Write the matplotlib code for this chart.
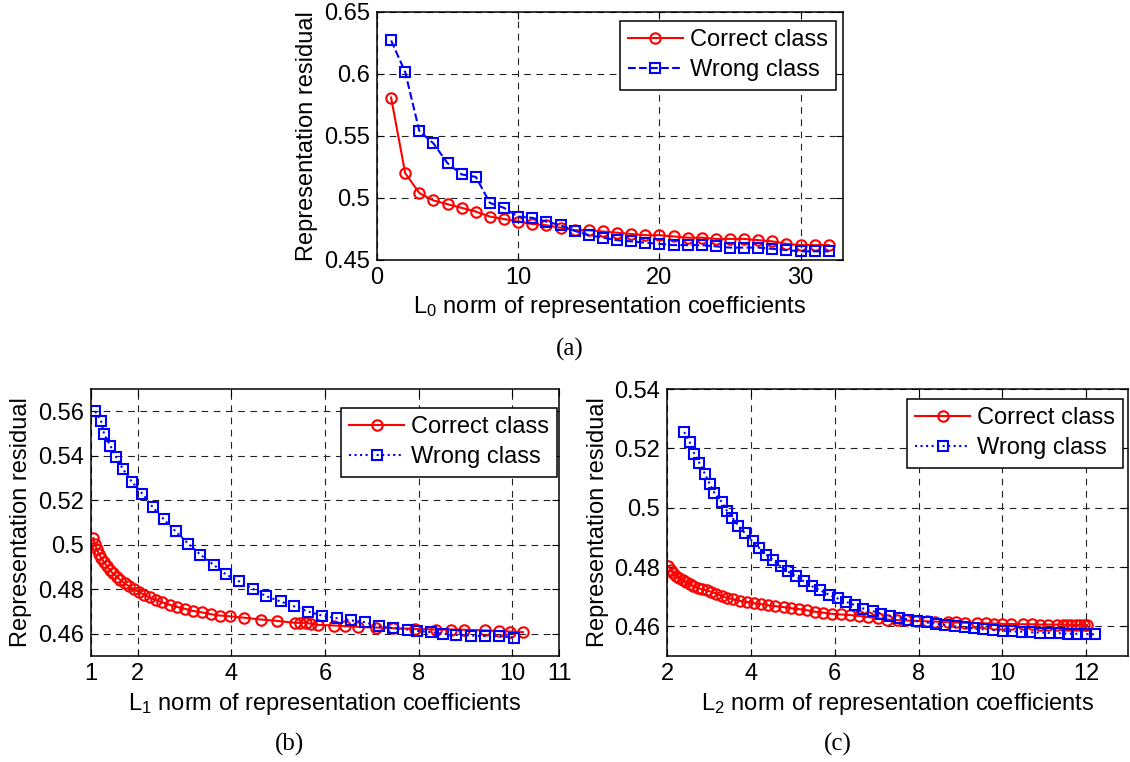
import numpy as np
import matplotlib
matplotlib.use("Agg")
import matplotlib.pyplot as plt

plt.rcParams["font.family"] = ["Liberation Sans", "DejaVu Sans"]
plt.rcParams["mathtext.fontset"] = "custom"
plt.rcParams["mathtext.rm"] = "Liberation Sans"
plt.rcParams["mathtext.it"] = "Liberation Sans"
plt.rcParams["xtick.direction"] = "in"
plt.rcParams["ytick.direction"] = "in"

# ===== (a) L0 norm =====
l0_x = np.arange(1, 33)
l0_correct = [0.581, 0.520, 0.504, 0.498, 0.495, 0.492, 0.489, 0.485, 0.483, 0.481,
              0.479, 0.478, 0.476, 0.474, 0.474, 0.473, 0.472, 0.471, 0.470, 0.470,
              0.469, 0.468, 0.468, 0.467, 0.467, 0.467, 0.466, 0.465, 0.463, 0.462,
              0.462, 0.462]
l0_wrong = [0.627, 0.6015, 0.554, 0.544, 0.528, 0.519, 0.517, 0.496, 0.492, 0.485,
            0.484, 0.481, 0.478, 0.4735, 0.470, 0.468, 0.466, 0.465, 0.464, 0.463,
            0.462, 0.462, 0.462, 0.461, 0.460, 0.460, 0.460, 0.459, 0.458, 0.457,
            0.457, 0.457]

# ===== (b) L1 norm =====
l1_correct_x = [1.05, 1.08, 1.12, 1.17, 1.22, 1.28, 1.34, 1.40, 1.47, 1.55, 1.63, 1.72,
                1.81, 1.91, 2.03, 2.14, 2.26, 2.39, 2.52, 2.68, 2.83, 3.01, 3.17, 3.37,
                3.56, 3.75, 3.98, 4.28, 4.63, 4.97, 5.36, 5.47, 5.59, 5.70, 5.85, 6.20,
                6.43, 6.70, 7.08, 7.46, 7.92, 8.38, 8.69, 8.96, 9.42, 9.72, 9.95, 10.23]
l1_correct = [0.5030, 0.5004, 0.4982, 0.4959, 0.4940, 0.4922, 0.4904, 0.4887, 0.4871,
              0.4856, 0.4841, 0.4827, 0.4814, 0.4801, 0.4787, 0.4775, 0.4763, 0.4751,
              0.4741, 0.4730, 0.4721, 0.4712, 0.4703, 0.4696, 0.4688, 0.4682, 0.4678,
              0.4672, 0.4664, 0.4658, 0.4649, 0.4649, 0.4649, 0.4645, 0.4640, 0.4637,
              0.4634, 0.4631, 0.4628, 0.4625, 0.4622, 0.4619, 0.4619, 0.4618, 0.4615,
              0.4612, 0.4610, 0.4607]
l1_wrong_x = [1.09, 1.22, 1.28, 1.41, 1.54, 1.68, 1.87, 2.10, 2.32, 2.55, 2.81, 3.08,
              3.34, 3.62, 3.88, 4.17, 4.46, 4.74, 5.05, 5.33, 5.64, 5.93, 6.25, 6.56,
              6.85, 7.16, 7.46, 7.77, 7.96, 8.27, 8.53, 8.80, 9.11, 9.42, 9.72, 10.03]
l1_wrong = [0.5600, 0.5554, 0.5498, 0.5446, 0.5393, 0.5341, 0.5284, 0.5229, 0.5169,
            0.5116, 0.5060, 0.5004, 0.4955, 0.4910, 0.4867, 0.4835, 0.4802, 0.4769,
            0.4745, 0.4724, 0.4700, 0.4682, 0.4670, 0.4660, 0.4652, 0.4634, 0.4625,
            0.4619, 0.4613, 0.4607, 0.4600, 0.4595, 0.4592, 0.4589, 0.4589, 0.4583]

# ===== (c) L2 norm =====
l2_correct_x = [2.03, 2.09, 2.15, 2.22, 2.29, 2.37, 2.45, 2.54, 2.62, 2.73, 2.83, 2.95,
                3.06, 3.18, 3.30, 3.43, 3.58, 3.73, 3.90, 4.07, 4.24, 4.41, 4.58, 4.78,
                4.96, 5.15, 5.35, 5.54, 5.73, 5.94, 6.16, 6.37, 6.58, 6.80, 7.03, 7.25,
                7.48, 7.69, 7.93, 8.20, 8.40, 8.70, 8.90, 9.10, 9.40, 9.60, 9.80, 10.00,
                10.20, 10.50, 10.70, 10.90, 11.10, 11.30, 11.45, 11.55, 11.65, 11.75,
                11.85, 11.95, 12.02]
l2_correct = [0.4802, 0.4791, 0.4780, 0.4771, 0.4763, 0.4756, 0.4750, 0.4743, 0.4736,
              0.4730, 0.4725, 0.4721, 0.4716, 0.4710, 0.4703, 0.4696, 0.4691, 0.4686,
              0.4682, 0.4678, 0.4675, 0.4671, 0.4668, 0.4665, 0.4661, 0.4658, 0.4654,
              0.4649, 0.4646, 0.4642, 0.4640, 0.4638, 0.4635, 0.4631, 0.4627, 0.4623,
              0.4621, 0.4620, 0.4618, 0.4617, 0.4616, 0.4614, 0.4613, 0.4612, 0.4611,
              0.4610, 0.4609, 0.4608, 0.4608, 0.4607, 0.4607, 0.4606, 0.4606, 0.4606,
              0.4606, 0.4605, 0.4605, 0.4605, 0.4605, 0.4605, 0.4605]
l2_wrong_x = [2.41, 2.54, 2.65, 2.77, 2.90, 3.02, 3.13, 3.30, 3.43, 3.56, 3.70, 3.86,
              4.04, 4.20, 4.37, 4.52, 4.71, 4.88, 5.07, 5.26, 5.46, 5.66, 5.86, 6.07,
              6.26, 6.48, 6.68, 6.91, 7.11, 7.33, 7.54, 7.76, 7.96, 8.20, 8.41, 8.64,
              8.87, 9.10, 9.33, 9.55, 9.78, 10.01, 10.23, 10.46, 10.67, 10.91, 11.14,
              11.35, 11.57, 11.78, 11.99, 12.20]
l2_wrong = [0.5255, 0.5221, 0.5182, 0.5151, 0.5115, 0.5079, 0.5050, 0.5020, 0.4989,
            0.4966, 0.4939, 0.4914, 0.4886, 0.4864, 0.4841, 0.4825, 0.4802, 0.4785,
            0.4769, 0.4752, 0.4735, 0.4721, 0.4707, 0.4694, 0.4683, 0.4672, 0.4660,
            0.4651, 0.4643, 0.4635, 0.4629, 0.4623, 0.4618, 0.4613, 0.4609, 0.4604,
            0.4600, 0.4597, 0.4593, 0.4590, 0.4588, 0.4585, 0.4583, 0.4582, 0.4580,
            0.4579, 0.4578, 0.4577, 0.4575, 0.4575, 0.4574, 0.4573]

FS = 17


def style_axes(ax, xlim, ylim, xticks, yticks, xlabel, legend_anchor):
    ax.set_xlim(xlim)
    ax.set_ylim(ylim)
    ax.set_xticks(xticks)
    ax.set_yticks(yticks)
    ax.set_yticklabels([("%g" % t) for t in yticks])
    ax.tick_params(labelsize=FS, top=True, right=True, length=5, width=0.8, pad=5)
    ax.grid(True, color="#222222", linestyle=(0, (6, 5)), linewidth=0.8)
    for sp in ax.spines.values():
        sp.set_linewidth(1.1)
    ax.set_xlabel(xlabel, fontsize=FS, labelpad=4)
    ax.set_ylabel("Representation residual", fontsize=FS, labelpad=4)
    leg = ax.legend(["Correct class", "Wrong class"], loc="upper right",
                    bbox_to_anchor=legend_anchor, fontsize=FS, fancybox=False,
                    framealpha=1, edgecolor="black", handlelength=2.3,
                    labelspacing=0.35, borderpad=0.35, handletextpad=0.3,
                    borderaxespad=0)
    leg.get_frame().set_linewidth(1.1)


fig = plt.figure(figsize=(11.3, 7.62), dpi=100)

line_kw = dict(linewidth=1.5, markersize=7.5, markerfacecolor="none", markeredgewidth=1.5)

# (a)
ax_a = fig.add_axes([0.3336, 0.6588, 0.4124, 0.3255])
ax_a.plot(l0_x, l0_correct, "-o", color="red", **line_kw)
ax_a.plot(l0_x, l0_wrong, "--s", color="blue", **line_kw)
style_axes(ax_a, (0, 33), (0.45, 0.65), [0, 10, 20, 30],
           [0.45, 0.5, 0.55, 0.6, 0.65],
           r"L$_\mathregular{0}$ norm of representation coefficients",
           (0.985, 0.964))

# (b)
ax_b = fig.add_axes([0.0805, 0.1391, 0.4142, 0.3504])
ax_b.plot(l1_correct_x, l1_correct, "-o", color="red", **line_kw)
ax_b.plot(l1_wrong_x, l1_wrong, ":s", color="blue", **line_kw)
style_axes(ax_b, (1, 11), (0.45, 0.57), [1, 2, 4, 6, 8, 10, 11],
           [0.46, 0.48, 0.5, 0.52, 0.54, 0.56],
           r"L$_\mathregular{1}$ norm of representation coefficients",
           (0.996, 0.929))

# (c)
ax_c = fig.add_axes([0.5903, 0.1391, 0.408, 0.3504])
ax_c.plot(l2_correct_x, l2_correct, "-o", color="red", **line_kw)
ax_c.plot(l2_wrong_x, l2_wrong, ":s", color="blue", **line_kw)
style_axes(ax_c, (2, 13), (0.45, 0.54), [2, 4, 6, 8, 10, 12],
           [0.46, 0.48, 0.5, 0.52, 0.54],
           r"L$_\mathregular{2}$ norm of representation coefficients",
           (0.989, 0.963))

# panel captions
cap_kw = dict(fontsize=18, family=["Liberation Serif", "DejaVu Serif"], ha="center", va="center")
fig.text(570 / 1130, 1 - 349 / 762, "(a)", **cap_kw)
fig.text(290 / 1130, 1 - 744 / 762, "(b)", **cap_kw)
fig.text(838 / 1130, 1 - 744 / 762, "(c)", **cap_kw)

fig.savefig("out.png", dpi=100)
